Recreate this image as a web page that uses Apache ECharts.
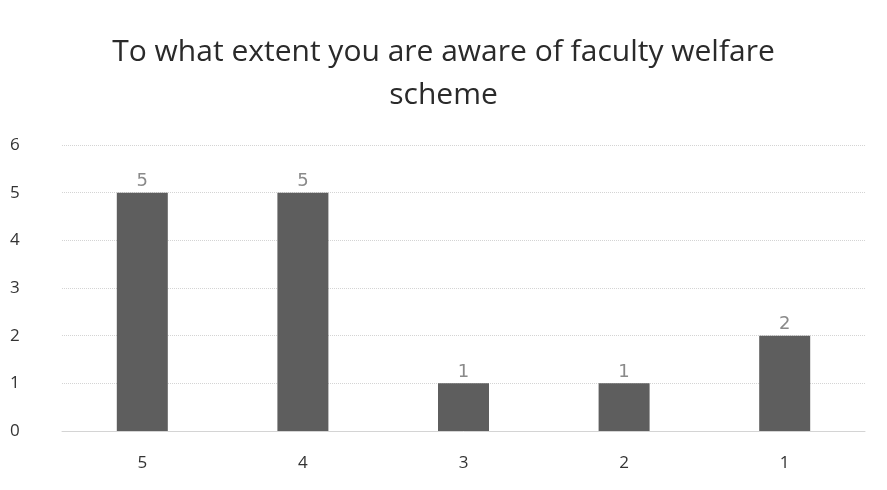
<!DOCTYPE html>
<html>
<head>
<meta charset="utf-8">
<script src="https://cdn.jsdelivr.net/npm/echarts@6/dist/echarts.min.js"></script>
<style>
    html, body { margin: 0; padding: 0; background: #fff; }
    #chart { width: 887px; height: 490px; }
</style>
</head>
<body>
<div id="chart"></div>
<script>
var titleText = 'To what extent you are aware of faculty welfare\nscheme';
var categories = ['5', '4', '3', '2', '1'];
var counts = [5, 5, 1, 1, 2];
var yTicks = [0, 1, 2, 3, 4, 5, 6];

var chart = echarts.init(document.getElementById('chart'));
var option = {
    backgroundColor: '#fff',
    title: {
        text: titleText,
        left: 'center',
        top: 26,
        textStyle: {
            fontFamily: 'Open Sans',
            fontWeight: 'normal',
            fontSize: 30,
            lineHeight: 43,
            color: '#2a2a2a'
        }
    },
    grid: {
        left: 62,
        right: 22,
        top: 145,
        bottom: 59
    },
    xAxis: {
        type: 'category',
        data: categories,
        axisLine: { lineStyle: { color: '#d4d4d4' } },
        axisTick: { show: false },
        axisLabel: {
            fontFamily: 'Open Sans',
            fontSize: 17,
            color: '#333',
            margin: 24
        }
    },
    yAxis: {
        type: 'value',
        min: yTicks[0],
        max: yTicks[yTicks.length - 1],
        interval: 1,
        axisLine: { show: false },
        axisTick: { show: false },
        splitLine: { lineStyle: { color: '#d4d4d4', type: 'dotted' } },
        axisLabel: {
            fontFamily: 'Open Sans',
            fontSize: 17,
            color: '#333',
            margin: 52,
            align: 'left'
        }
    },
    series: [{
        type: 'bar',
        data: counts,
        barWidth: 51,
        itemStyle: { color: '#5e5e5e' },
        label: {
            show: true,
            position: 'top',
            distance: 2,
            fontFamily: 'DejaVu Sans',
            fontSize: 18,
            color: '#8a8a8a'
        }
    }]
};
chart.setOption(option);
</script>
</body>
</html>
